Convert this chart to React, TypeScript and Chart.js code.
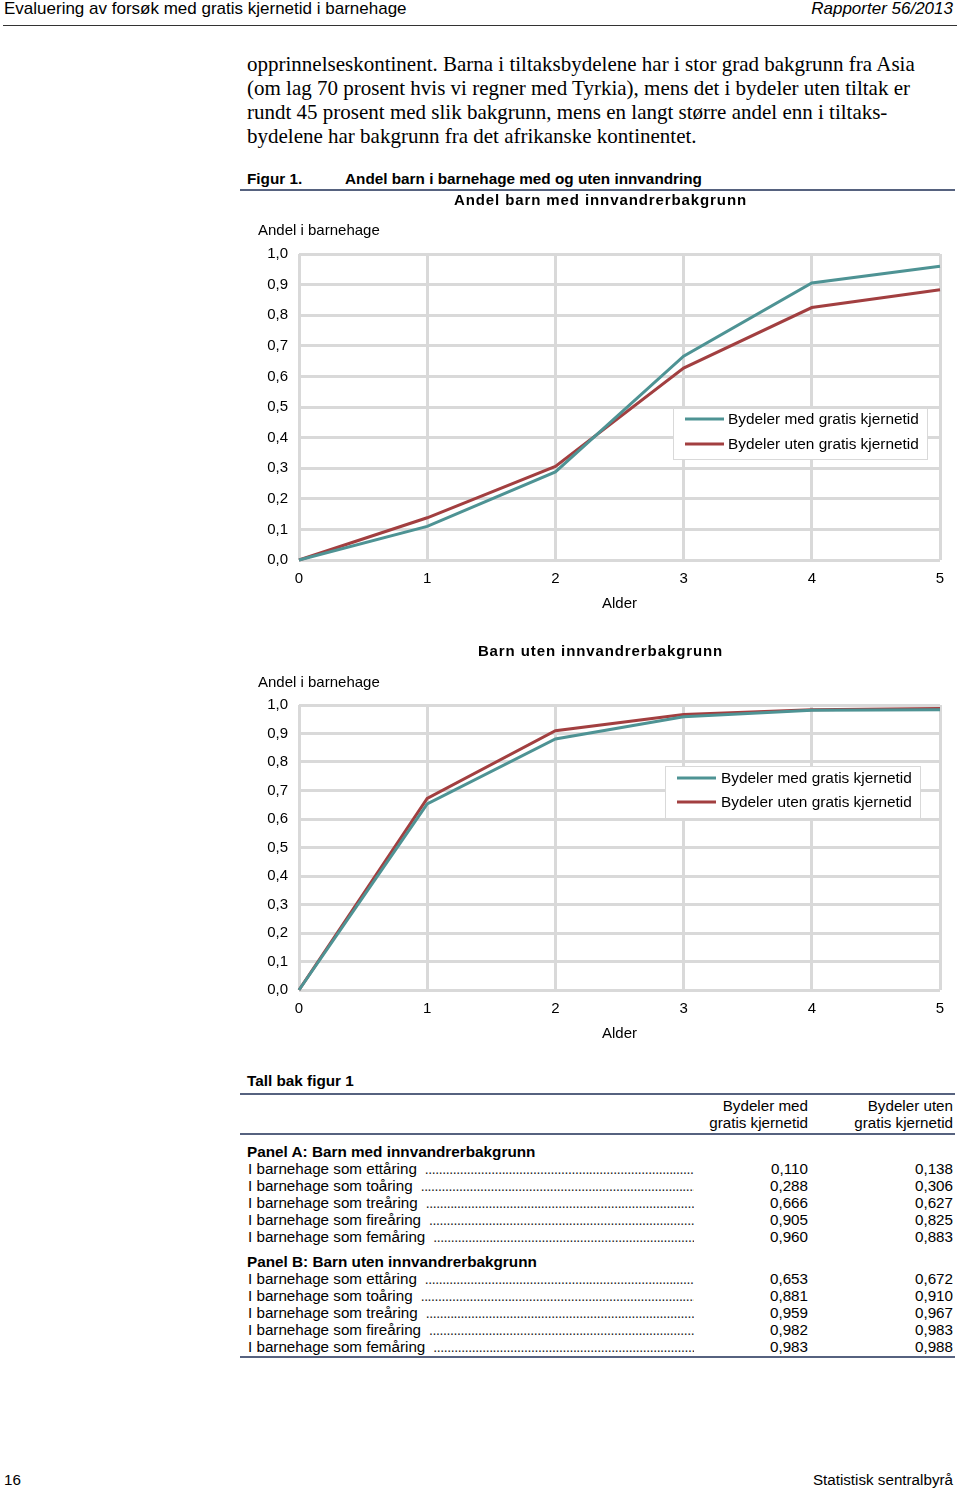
import React, { useEffect, useRef } from "react";
import { Chart, registerables } from "chart.js";
Chart.register(...registerables);

const ages = ["0", "1", "2", "3", "4", "5"];
const seriesLabels = ["Bydeler med gratis kjernetid", "Bydeler uten gratis kjernetid"];
const panelAMed = [0, 0.11, 0.288, 0.666, 0.905, 0.96];
const panelAUten = [0, 0.138, 0.306, 0.627, 0.825, 0.883];
const panelBMed = [0, 0.653, 0.881, 0.959, 0.982, 0.983];
const panelBUten = [0, 0.672, 0.91, 0.967, 0.983, 0.988];
const rowLabels = [
  "I barnehage som ettåring",
  "I barnehage som toåring",
  "I barnehage som treåring",
  "I barnehage som fireåring",
  "I barnehage som femåring",
];
const paragraphLines = [
  "opprinnelseskontinent. Barna i tiltaksbydelene har i stor grad bakgrunn fra Asia",
  "(om lag 70 prosent hvis vi regner med Tyrkia), mens det i bydeler uten tiltak er",
  "rundt 45 prosent med slik bakgrunn, mens en langt større andel enn i tiltaks-",
  "bydelene har bakgrunn fra det afrikanske kontinentet.",
];

const TEAL = "#4e9394";
const RED = "#a23f40";
const GRID = "#d9d9d9";
const SANS = "'Liberation Sans', Arial, sans-serif";
const SERIF = "'Liberation Serif', 'Times New Roman', serif";

const fmt = (v: number, d: number) => v.toFixed(d).replace(".", ",");

type ChartProps = {
  top: number;
  height: number;
  title: string;
  med: number[];
  uten: number[];
  chartTop: number;
  titleY: number;
  yLabelY: number;
  legend: { x: number; y: number; w: number; h: number; sx: number; tx: number; r1: number; r2: number };
};

function LineChart(p: ChartProps) {
  const ref = useRef<HTMLCanvasElement | null>(null);
  useEffect(() => {
    if (!ref.current) return;
    const deco = {
      id: "deco",
      afterDraw(chart: any) {
        const ctx = chart.ctx;
        ctx.save();
        const ca = chart.chartArea;
        // title
        ctx.font = `bold 15px ${SANS}`;
        ctx.fillStyle = "#000";
        ctx.textAlign = "center";
        ctx.textBaseline = "middle";
        (ctx as any).letterSpacing = "0.9px";
        ctx.fillText(p.title, (ca.left + ca.right) / 2 - 19, p.titleY);
        (ctx as any).letterSpacing = "0px";
        // y label
        ctx.font = `15px ${SANS}`;
        ctx.textAlign = "left";
        ctx.fillText("Andel i barnehage", 18, p.yLabelY);
        // legend
        const L = p.legend;
        ctx.fillStyle = "#fff";
        ctx.fillRect(L.x, L.y, L.w, L.h);
        ctx.strokeStyle = GRID;
        ctx.lineWidth = 1;
        ctx.strokeRect(L.x + 0.5, L.y + 0.5, L.w, L.h);
        const rows = [L.r1, L.r2];
        chart.data.datasets.forEach((ds: any, i: number) => {
          const yy = L.y + rows[i];
          ctx.strokeStyle = ds.borderColor;
          ctx.lineWidth = 3;
          ctx.beginPath();
          ctx.moveTo(L.x + L.sx, yy);
          ctx.lineTo(L.x + L.sx + 39, yy);
          ctx.stroke();
          ctx.fillStyle = "#000";
          ctx.font = `15.4px ${SANS}`;
          ctx.fillText(ds.label, L.x + L.tx, yy + 1);
        });
        ctx.restore();
      },
    };
    const chart = new Chart(ref.current, {
      type: "line",
      data: {
        labels: ages,
        datasets: [
          { label: seriesLabels[0], data: p.med, borderColor: TEAL, backgroundColor: TEAL, borderWidth: 3, pointRadius: 0, tension: 0, clip: false } as any,
          { label: seriesLabels[1], data: p.uten, borderColor: RED, backgroundColor: RED, borderWidth: 3, pointRadius: 0, tension: 0, clip: false } as any,
        ],
      },
      options: {
        animation: false,
        responsive: false,
        events: [],
        layout: { padding: { top: p.chartTop, left: 0, right: 20, bottom: 0 } },
        plugins: { legend: { display: false }, title: { display: false }, tooltip: { enabled: false } },
        scales: {
          x: {
            type: "category",
            offset: false,
            grid: { color: GRID, lineWidth: 3, drawTicks: false },
            border: { display: false },
            ticks: { color: "#000", font: { family: SANS, size: 15 }, padding: 10, maxRotation: 0 },
            title: { display: true, text: "Alder", color: "#000", font: { family: SANS, size: 15 }, padding: 0 },
            afterFit: (s: any) => { s.height = 53; },
          },
          y: {
            min: 0,
            max: 1,
            grid: { color: GRID, lineWidth: 3, drawTicks: false },
            border: { display: false },
            ticks: { stepSize: 0.1, color: "#000", font: { family: SANS, size: 15 }, padding: 11, callback: (v: any) => fmt(Number(v), 1) },
            afterFit: (s: any) => { s.width = 59; },
          },
        },
      } as any,
      plugins: [deco],
    });
    return () => chart.destroy();
  }, []);
  return (
    <canvas
      ref={ref}
      width={720}
      height={p.height}
      style={{ position: "absolute", left: 240, top: p.top, width: 720, height: p.height }}
    />
  );
}

function T(props: { x: number; y: number; size: number; bold?: boolean; italic?: boolean; right?: boolean; family?: string; children: any }) {
  const lh = props.size * 1.2;
  const style: any = {
    position: "absolute",
    top: props.y + 1 - lh / 2,
    lineHeight: lh + "px",
    fontSize: props.size,
    fontFamily: props.family || SANS,
    fontWeight: props.bold ? "bold" : "normal",
    fontStyle: props.italic ? "italic" : "normal",
    whiteSpace: "nowrap",
    color: "#000",
  };
  if (props.right) style.right = 960 - props.x;
  else style.left = props.x;
  return <div style={style}>{props.children}</div>;
}

function Rule(props: { x1: number; x2: number; y: number; color: string; h: number }) {
  return (
    <div style={{ position: "absolute", left: props.x1, width: props.x2 - props.x1, top: props.y - props.h / 2, height: props.h, background: props.color }} />
  );
}

function Row(props: { y: number; label: string; a: number; b: number }) {
  const lh = 18;
  return (
    <>
      <div
        style={{
          position: "absolute",
          left: 248,
          width: 446,
          top: props.y + 1 - lh / 2,
          lineHeight: lh + "px",
          height: lh,
          overflow: "hidden",
          whiteSpace: "nowrap",
          fontFamily: SANS,
          fontSize: 15.2,
          color: "#000",
        }}
      >
        {props.label}
        <span style={{ fontSize: 14, marginLeft: 8, letterSpacing: "-0.4px", color: "#222" }}>{".".repeat(200)}</span>
      </div>
      <T x={808} y={props.y} size={15.2} right>{fmt(props.a, 3)}</T>
      <T x={953} y={props.y} size={15.2} right>{fmt(props.b, 3)}</T>
    </>
  );
}

export default function App() {
  const rowsA = [1168, 1185, 1202, 1219, 1236];
  const rowsB = [1278, 1295, 1312, 1329, 1346];
  return (
    <div style={{ position: "absolute", left: 0, top: 0, width: 960, height: 1489, background: "#fff", overflow: "hidden" }}>
      <T x={4} y={8} size={17}>Evaluering av forsøk med gratis kjernetid i barnehage</T>
      <T x={953} y={8} size={17} italic right>Rapporter 56/2013</T>
      <Rule x1={3} x2={957} y={25.5} color="#333" h={1.5} />

      {paragraphLines.map((l, i) => (
        <T key={i} x={247} y={64 + i * 23.7} size={21} family={SERIF}>{l}</T>
      ))}

      <T x={247} y={178} size={15.3} bold>Figur 1.</T>
      <T x={345} y={178} size={15.3} bold>Andel barn i barnehage med og uten innvandring</T>
      <Rule x1={240} x2={955} y={190} color="#56627f" h={2} />

      <LineChart
        top={190}
        height={423}
        title="Andel barn med innvandrerbakgrunn"
        med={panelAMed}
        uten={panelAUten}
        chartTop={64}
        titleY={11}
        yLabelY={41}
        legend={{ x: 433, y: 218, w: 254, h: 51, sx: 12, tx: 55, r1: 11, r2: 36 }}
      />
      <LineChart
        top={640}
        height={403}
        title="Barn uten innvandrerbakgrunn"
        med={panelBMed}
        uten={panelBUten}
        chartTop={65}
        titleY={12}
        yLabelY={43}
        legend={{ x: 425, y: 126, w: 255, h: 52, sx: 12, tx: 56, r1: 12, r2: 36 }}
      />

      <T x={247} y={1080} size={15.3} bold>Tall bak figur 1</T>
      <Rule x1={240} x2={955} y={1094} color="#56627f" h={2} />
      <T x={808} y={1105} size={15.2} right>Bydeler med</T>
      <T x={808} y={1122} size={15.2} right>gratis kjernetid</T>
      <T x={953} y={1105} size={15.2} right>Bydeler uten</T>
      <T x={953} y={1122} size={15.2} right>gratis kjernetid</T>
      <Rule x1={240} x2={955} y={1134} color="#56627f" h={2} />

      <T x={247} y={1151} size={15.3} bold>Panel A: Barn med innvandrerbakgrunn</T>
      {rowsA.map((y, i) => (
        <Row key={"a" + i} y={y} label={rowLabels[i]} a={panelAMed[i + 1]} b={panelAUten[i + 1]} />
      ))}
      <T x={247} y={1261} size={15.3} bold>Panel B: Barn uten innvandrerbakgrunn</T>
      {rowsB.map((y, i) => (
        <Row key={"b" + i} y={y} label={rowLabels[i]} a={panelBMed[i + 1]} b={panelBUten[i + 1]} />
      ))}
      <Rule x1={240} x2={955} y={1357} color="#56627f" h={2} />

      <T x={4} y={1479} size={15.2}>16</T>
      <T x={953} y={1479} size={15.2} right>Statistisk sentralbyrå</T>
    </div>
  );
}
